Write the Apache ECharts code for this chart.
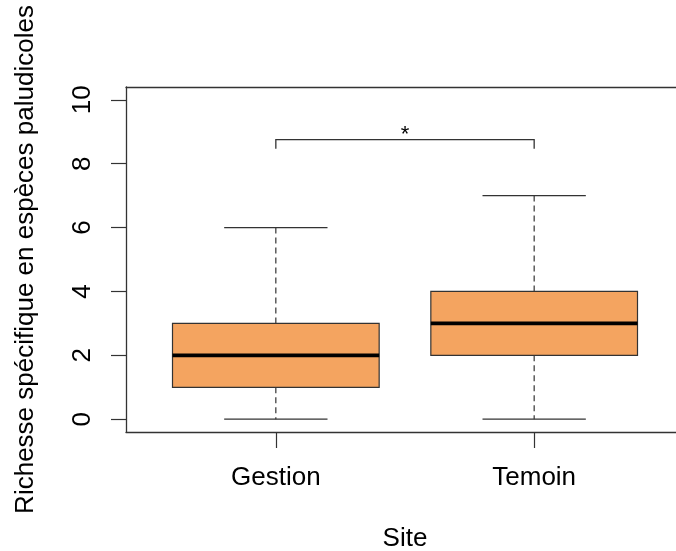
<!DOCTYPE html>
<html>
<head>
<meta charset="utf-8">
<script src="https://cdn.jsdelivr.net/npm/echarts@6/dist/echarts.min.js"></script>
<style>
html,body{margin:0;padding:0;background:#fff;}
#chart{width:676px;height:551px;}
</style>
</head>
<body>
<div id="chart"></div>
<script>
// ---- data ----
const categories = ['Gestion', 'Temoin'];
// [min, Q1, median, Q3, max]
const gestionStats = [0, 1, 2, 3, 6];
const temoinStats = [0, 2, 3, 4, 7];
const yTicks = [0, 2, 4, 6, 8, 10];
const xTicks = [1, 2];
// significance bracket: [from, to, height, tickBottom]
const bracket = [1, 2, 8.75, 8.47];
const bracketLabel = '*';

const FONT = '"Liberation Sans", Arial, sans-serif';
const allStats = [gestionStats, temoinStats];
const boxData = allStats.map((s, i) => [xTicks[i]].concat(s));

const chart = echarts.init(document.getElementById('chart'), null, {renderer: 'canvas'});

const frameLine = {show: true, onZero: false, lineStyle: {color: '#333333', width: 1.3}};

const option = {
  animation: false,
  backgroundColor: '#ffffff',
  grid: {
    left: 126, top: 87, width: 558, height: 345,
    outerBoundsMode: 'none', containLabel: false,
    show: false
  },
  xAxis: [{
    type: 'value', min: 0.42, max: 2.58, position: 'bottom',
    splitLine: {show: false},
    axisLine: frameLine,
    axisTick: {show: true, customValues: xTicks, length: 16, lineStyle: {color: '#333333', width: 1.2}},
    axisLabel: {
      customValues: xTicks, margin: 33,
      formatter: v => categories[Math.round(v) - 1] || '',
      fontFamily: FONT, fontSize: 26, color: '#000'
    },
    name: 'Site', nameLocation: 'middle', nameGap: 94,
    nameTextStyle: {fontFamily: FONT, fontSize: 26, color: '#000'}
  }, {
    type: 'value', min: 0.42, max: 2.58, position: 'top',
    splitLine: {show: false},
    axisLine: frameLine,
    axisTick: {show: false},
    axisLabel: {show: false}
  }],
  yAxis: {
    type: 'value', min: -0.4, max: 10.4,
    splitLine: {show: false},
    axisLine: frameLine,
    axisTick: {show: true, customValues: yTicks, length: 15, lineStyle: {color: '#333333', width: 1.2}},
    axisLabel: {
      customValues: yTicks, rotate: 90, margin: 30,
      fontFamily: FONT, fontSize: 26, color: '#000'
    },
    name: 'Richesse spécifique en espèces paludicoles', nameLocation: 'middle', nameGap: 87,
    nameTextStyle: {fontFamily: FONT, fontSize: 26, color: '#000'}
  },
  series: [
    {
      type: 'custom',
      data: boxData,
      encode: {x: 0, y: [1, 2, 3, 4, 5]},
      renderItem: function (params, api) {
        const x = api.value(0);
        const mn = api.value(1), q1 = api.value(2), md = api.value(3), q3 = api.value(4), mx = api.value(5);
        const halfBox = api.size([0.8, 0])[0] / 2;
        const halfCap = api.size([0.4, 0])[0] / 2;
        const pMin = api.coord([x, mn]);
        const pQ1 = api.coord([x, q1]);
        const pMd = api.coord([x, md]);
        const pQ3 = api.coord([x, q3]);
        const pMax = api.coord([x, mx]);
        const cx = pMd[0];
        const dash = {stroke: '#333333', lineWidth: 1.2, lineDash: [6, 4]};
        const solid = {stroke: '#333333', lineWidth: 1.3};
        return {
          type: 'group',
          children: [
            {type: 'line', shape: {x1: cx, y1: pQ3[1], x2: cx, y2: pMax[1]}, style: dash},
            {type: 'line', shape: {x1: cx, y1: pQ1[1], x2: cx, y2: pMin[1]}, style: dash},
            {type: 'line', shape: {x1: cx - halfCap, y1: pMax[1], x2: cx + halfCap, y2: pMax[1]}, style: solid},
            {type: 'line', shape: {x1: cx - halfCap, y1: pMin[1], x2: cx + halfCap, y2: pMin[1]}, style: solid},
            {type: 'rect', shape: {x: cx - halfBox, y: pQ3[1], width: 2 * halfBox, height: pQ1[1] - pQ3[1]},
              style: {fill: '#F4A460', stroke: '#333333', lineWidth: 1.2}},
            {type: 'line', shape: {x1: cx - halfBox, y1: pMd[1], x2: cx + halfBox, y2: pMd[1]},
              style: {stroke: '#000000', lineWidth: 3.8}}
          ]
        };
      }
    },
    {
      type: 'custom',
      data: [bracket],
      encode: {x: [0, 1], y: [2, 3]},
      renderItem: function (params, api) {
        const a = api.coord([api.value(0), api.value(2)]);
        const b = api.coord([api.value(1), api.value(2)]);
        const aBot = api.coord([api.value(0), api.value(3)]);
        const mid = api.coord([(api.value(0) + api.value(1)) / 2, api.value(2)]);
        return {
          type: 'group',
          children: [
            {type: 'polyline', shape: {points: [[aBot[0], aBot[1]], [a[0], a[1]], [b[0], b[1]], [b[0], aBot[1]]]},
              style: {stroke: '#333333', lineWidth: 1.3, fill: null}},
            {type: 'text', x: mid[0], y: mid[1] - 5,
              style: {text: bracketLabel, fontFamily: FONT, fontSize: 22, fill: '#000', align: 'center', verticalAlign: 'middle'}}
          ]
        };
      }
    }
  ]
};
chart.setOption(option);
</script>
</body>
</html>
